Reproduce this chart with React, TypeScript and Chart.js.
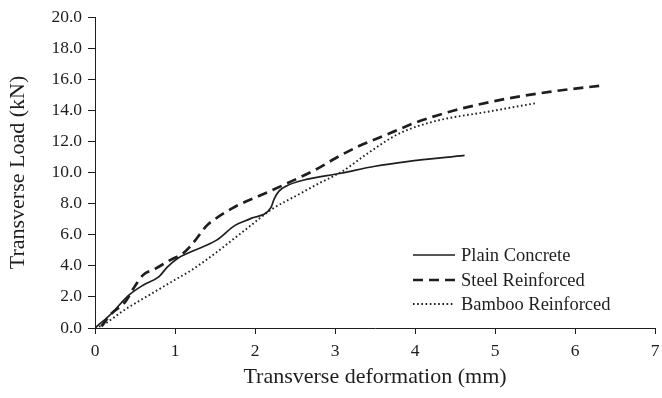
import React, { useEffect, useRef } from "react";
import { Chart, registerables } from "chart.js";

Chart.register(...registerables);

const seriesNames = ["Plain Concrete", "Steel Reinforced", "Bamboo Reinforced"];

const plainX = [0, 0.2, 0.42, 0.6, 0.8, 0.9, 1.04, 1.2, 1.52, 1.75, 1.95, 2.2, 2.24, 2.3, 2.4, 2.6, 3.07, 3.5, 3.9, 4.62];
const plainY = [0, 0.9, 2.1, 2.75, 3.3, 3.9, 4.5, 4.9, 5.65, 6.6, 7.05, 7.75, 8.3, 8.8, 9.15, 9.5, 9.95, 10.4, 10.7, 11.1];

const steelX = [0.08, 0.2, 0.38, 0.5, 0.6, 0.75, 0.95, 1.1, 1.2, 1.4, 1.5, 1.75, 2.1, 2.4, 2.8, 3.0, 3.3, 3.7, 4.0, 4.5, 5.1, 5.7, 6.35];
const steelY = [0.1, 0.9, 1.7, 2.7, 3.4, 3.8, 4.4, 4.8, 5.3, 6.6, 7.0, 7.8, 8.6, 9.3, 10.3, 10.9, 11.7, 12.55, 13.2, 14.0, 14.7, 15.2, 15.6];

const bambooX = [0, 0.1, 0.35, 0.77, 1.0, 1.2, 1.5, 1.9, 2.2, 2.55, 2.8, 3.1, 3.4, 3.8, 4.25, 4.9, 5.5];
const bambooY = [0, 0.2, 1.1, 2.4, 3.1, 3.7, 4.8, 6.4, 7.6, 8.6, 9.3, 10.1, 11.2, 12.5, 13.3, 13.9, 14.45];

const xTicks = [0, 1, 2, 3, 4, 5, 6, 7];
const yTicks = [0, 2, 4, 6, 8, 10, 12, 14, 16, 18, 20];

const FONT = "'Liberation Serif', 'Times New Roman', serif";
const INK = "#1e1e1e";

const toPts = (xs: number[], ys: number[]) => xs.map((x, i) => ({ x, y: ys[i] }));

const legendPlugin = {
  id: "insideLegend",
  afterDraw(chart: any) {
    const ctx = chart.ctx;
    const ds = chart.data.datasets;
    const x0 = 413;
    const x1 = 455;
    const rows = [255, 280, 304];
    ctx.save();
    ctx.font = `18.5px ${FONT}`;
    ctx.fillStyle = INK;
    ctx.textBaseline = "alphabetic";
    ds.forEach((d: any, i: number) => {
      const y = rows[i];
      ctx.beginPath();
      ctx.strokeStyle = INK;
      ctx.lineWidth = i === 0 ? 1.7 : i === 1 ? 2.7 : 1.9;
      ctx.setLineDash(i === 0 ? [] : i === 1 ? [10, 6] : [1.6, 2.6]);
      ctx.moveTo(x0, y);
      ctx.lineTo(x1, y);
      ctx.stroke();
      ctx.setLineDash([]);
      ctx.fillText(d.label, 461, y + 6);
    });
    ctx.restore();
  },
};

export default function App() {
  const ref = useRef<HTMLCanvasElement | null>(null);
  useEffect(() => {
    if (!ref.current) return;
    const chart = new Chart(ref.current, {
      type: "scatter",
      data: {
        datasets: [
          {
            label: seriesNames[0],
            data: toPts(plainX, plainY),
            showLine: true,
            borderColor: INK,
            borderWidth: 1.7,
            pointRadius: 0,
            cubicInterpolationMode: "monotone",
          },
          {
            label: seriesNames[1],
            data: toPts(steelX, steelY),
            showLine: true,
            borderColor: INK,
            borderWidth: 2.7,
            borderDash: [10, 6],
            pointRadius: 0,
            cubicInterpolationMode: "monotone",
          },
          {
            label: seriesNames[2],
            data: toPts(bambooX, bambooY),
            showLine: true,
            borderColor: INK,
            borderWidth: 1.9,
            borderDash: [1.6, 2.6],
            pointRadius: 0,
            cubicInterpolationMode: "monotone",
          },
        ] as any,
      },
      options: {
        animation: false,
        responsive: false,
        maintainAspectRatio: false,
        layout: { padding: { top: 17, right: 7, left: 0, bottom: 0 } },
        plugins: { legend: { display: false }, tooltip: { enabled: false } },
        scales: {
          x: {
            type: "linear",
            min: 0,
            max: 7,
            afterBuildTicks: (s: any) => {
              s.ticks = xTicks.map((v) => ({ value: v }));
            },
            afterFit: (s: any) => {
              s.height = 70;
              s.paddingLeft = 0;
              s.paddingRight = 0;
            },
            grid: { drawOnChartArea: false, drawTicks: true, tickLength: 6, color: INK },
            border: { display: true, color: INK, width: 1 },
            ticks: {
              color: INK,
              font: { family: FONT, size: 17.5 },
              padding: 7,
              maxRotation: 0,
              callback: (v: any) => String(v),
            },
            title: {
              display: true,
              text: "Transverse deformation (mm)",
              color: INK,
              font: { family: FONT, size: 22 },
              padding: { top: 4, bottom: 8 },
            },
          },
          y: {
            type: "linear",
            min: 0,
            max: 20,
            afterBuildTicks: (s: any) => {
              s.ticks = yTicks.map((v) => ({ value: v }));
            },
            afterFit: (s: any) => {
              s.width = 95;
              s.paddingTop = 0;
              s.paddingBottom = 0;
            },
            grid: { drawOnChartArea: false, drawTicks: true, tickLength: 7, color: INK },
            border: { display: true, color: INK, width: 1 },
            ticks: {
              color: INK,
              font: { family: FONT, size: 17.5 },
              padding: 6,
              callback: (v: any) => Number(v).toFixed(1),
            },
            title: {
              display: true,
              text: "Transverse Load (kN)",
              color: INK,
              font: { family: FONT, size: 22 },
              padding: { top: 5, bottom: 4 },
            },
          },
        },
      },
      plugins: [legendPlugin],
    } as any);
    return () => chart.destroy();
  }, []);
  return (
    <div style={{ position: "fixed", left: 0, top: 0, width: 662, height: 398, background: "#fff" }}>
      <canvas ref={ref} width={662} height={398} style={{ width: 662, height: 398, display: "block" }} />
    </div>
  );
}
